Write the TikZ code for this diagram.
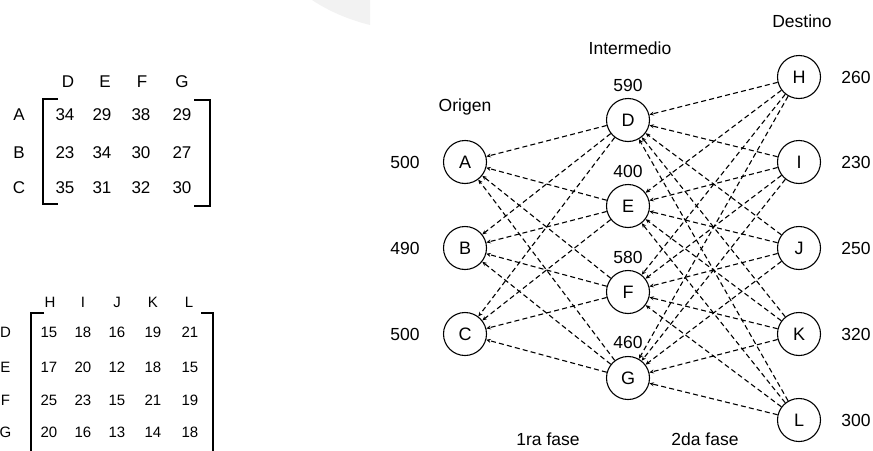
\documentclass[tikz,border=0pt]{standalone}
\usepackage{fontspec}
\setmainfont{Liberation Sans}
\usetikzlibrary{arrows.meta}
\begin{document}
\begin{tikzpicture}[x=1pt,y=-1pt,
  vertex/.style={circle,draw,line width=1.1pt,minimum size=43pt,inner sep=0pt,font=\fontsize{18}{20}\selectfont},
  lbl/.style={font=\fontsize{17.5}{20}\selectfont,inner sep=0pt},
  cell/.style={font=\fontsize{17}{20}\selectfont,inner sep=0pt},
  smallcell/.style={font=\fontsize{15}{18}\selectfont,inner sep=0pt},
  flow/.style={dash pattern=on 5pt off 3.2pt,line width=1.1pt,-{Stealth[length=4.5pt,width=4pt]}},
  bracket/.style={line width=1.1pt}]
\useasboundingbox (0,0) rectangle (873,450);

% faint corner shading at the top
\fill[black!5] (312,0) .. controls (330,12) and (350,20) .. (370,25) -- (370,0) -- cycle;

% ---------- cost matrix, first stage ----------
\foreach \c/\x in {D/68,E/105,F/142,G/182}
  \node[cell] (h1\c) at (\x,82) {\c};
\foreach \r/\y/\p/\q/\s/\t in {A/115/34/29/38/29,B/153/23/34/30/27,C/188/35/31/32/30}{
  \node[cell] (r1\r) at (19,\y) {\r};
  \node[cell] (c1\r1) at (65,\y) {\p};
  \node[cell] (c1\r2) at (102,\y) {\q};
  \node[cell] (c1\r3) at (141,\y) {\s};
  \node[cell] (c1\r4) at (182,\y) {\t};
}
\draw[bracket] (58,99) -- (43,99) -- (43,204) -- (58,204);
\draw[bracket] (194,100) -- (210,100) -- (210,206) -- (194,206);

% ---------- cost matrix, second stage ----------
\foreach \c/\x in {H/50,I/83,J/117,K/153,L/189}
  \node[smallcell] (h2\c) at (\x,302) {\c};
\foreach \r/\y/\p/\q/\s/\t/\u in {D/332/15/18/16/19/21,E/367/17/20/12/18/15,F/400/25/23/15/21/19,G/432/20/16/13/14/18}{
  \node[smallcell] (r2\r) at (5.5,\y) {\r};
  \node[smallcell] (c2\r1) at (49,\y) {\p};
  \node[smallcell] (c2\r2) at (83,\y) {\q};
  \node[smallcell] (c2\r3) at (117,\y) {\s};
  \node[smallcell] (c2\r4) at (153,\y) {\t};
  \node[smallcell] (c2\r5) at (190,\y) {\u};
}
\draw[bracket] (44,313) -- (31,313) -- (31,455);
\draw[bracket] (201,313) -- (213,313) -- (213,455);

% ---------- network ----------
\node[vertex] (A) at (465,162) {A};
\node[vertex] (B) at (465,248) {B};
\node[vertex] (C) at (465,334) {C};

\node[vertex] (D) at (628,120) {D};
\node[vertex] (E) at (628,206) {E};
\node[vertex] (F) at (628,292) {F};
\node[vertex] (G) at (628,378) {G};

\node[vertex] (H) at (799,77) {H};
\node[vertex] (I) at (799,162) {I};
\node[vertex] (J) at (799,248) {J};
\node[vertex] (K) at (799,334) {K};
\node[vertex] (L) at (799,420) {L};

% supplies, capacities and demands
\node[lbl] (sA) at (405,162) {500};
\node[lbl] (sB) at (405,248) {490};
\node[lbl] (sC) at (405,334) {500};
\node[lbl] (kD) at (628,85) {590};
\node[lbl] (kE) at (628,171) {400};
\node[lbl] (kF) at (628,257) {580};
\node[lbl] (kG) at (628,342) {460};
\node[lbl] (dH) at (856,77) {260};
\node[lbl] (dI) at (856,162) {230};
\node[lbl] (dJ) at (856,248) {250};
\node[lbl] (dK) at (856,334) {320};
\node[lbl] (dL) at (856,420) {300};

% column titles
\node[lbl] (tO) at (465,107) {Origen};
\node[lbl] (tI) at (630,48) {Intermedio};
\node[lbl] (tD) at (802,21) {Destino};
\node[lbl] (f1) at (548,439) {1ra fase};
\node[lbl] (f2) at (705,439) {2da fase};

% flows
\foreach \m in {D,E,F,G}
  \foreach \o in {A,B,C}
    \draw[flow] (\m) -- (\o);
\foreach \d in {H,I,J,K,L}
  \foreach \m in {D,E,F,G}
    \draw[flow] (\d) -- (\m);
\end{tikzpicture}
\end{document}
